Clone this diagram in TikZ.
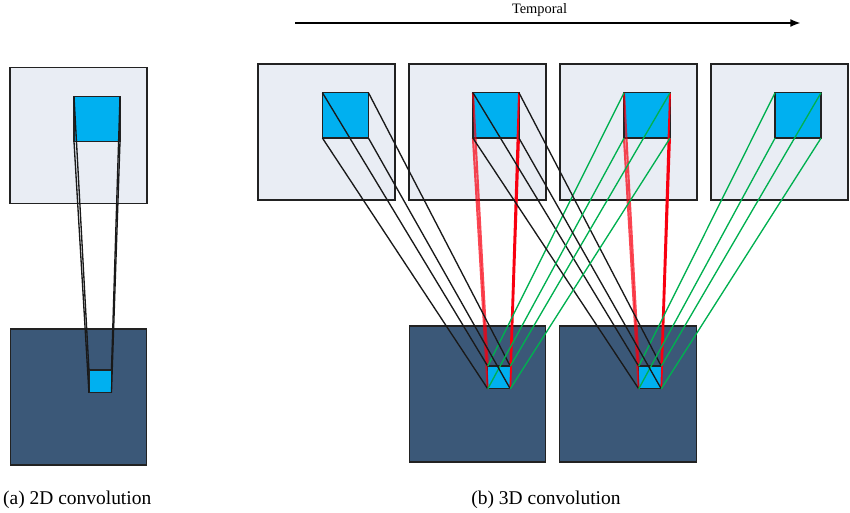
\documentclass[tikz,border=0pt]{standalone}
\usepackage{fontspec}
\usetikzlibrary{arrows.meta}
\setmainfont{Liberation Serif}
\definecolor{panelfill}{HTML}{E9EDF4}
\definecolor{darkfill}{HTML}{3B5878}
\definecolor{cyanfill}{HTML}{00B0F0}
\definecolor{linegreen}{HTML}{00B050}
\definecolor{linered}{HTML}{F80010}
\definecolor{edge}{HTML}{222222}
\tikzset{
  box/.style={rectangle,draw=edge,line width=1pt,inner sep=0pt,outer sep=0pt},
  panel/.style={box,fill=panelfill,minimum width=102.75pt,minimum height=102.2pt},
  darkpanel/.style={box,fill=darkfill,minimum width=102.4pt,minimum height=102.2pt},
  kernel/.style={box,fill=cyanfill,minimum width=34.5pt,minimum height=34pt},
  smallkernel/.style={box,fill=cyanfill,minimum width=16.9pt,minimum height=17pt},
  blackline/.style={draw=black!90,line width=1pt},
  redline/.style={draw=linered,line width=1.4pt},
  paleredline/.style={draw=linered,opacity=0.72,line width=1.6pt},
  greenline/.style={draw=linegreen,line width=1pt},
  caption/.style={inner sep=0pt,font=\fontsize{14.6pt}{16pt}\selectfont,anchor=base},
}
\begin{document}
\begin{tikzpicture}[x=0.75pt,y=-0.75pt]
\useasboundingbox (0,0) rectangle (850,513);
% 2D
\node[panel] (p0) at (78.5,135.5) {};
\node[darkpanel] (d0) at (78.5,397) {};
\node[kernel] (k0) at (97,119) {};
\node[smallkernel] (s0) at (100.2,381.2) {};
% 3D panels
\node[panel] (p1) at (326.5,132) {};
\node[panel] (p2) at (477.5,132) {};
\node[panel] (p3) at (628.5,132) {};
\node[panel] (p4) at (779.5,132) {};
\node[kernel] (k1) at (345.5,115.5) {};
\node[kernel] (k2) at (496,115.5) {};
\node[kernel] (k3) at (647,115.5) {};
\node[kernel] (k4) at (798,115.5) {};
\node[darkpanel] (d1) at (477.5,394) {};
\node[darkpanel] (d2) at (628,394) {};
\node[smallkernel] (s1) at (499,377.5) {};
\node[smallkernel] (s2) at (650,377.5) {};
% connectors
\foreach \c in {north west,north east,south west,south east}{
  \draw[blackline] (k0.\c) -- (s0.\c);
}
\foreach \c in {north west,south west}{
  \draw[paleredline] (k2.\c) -- (s1.\c);
  \draw[paleredline] (k3.\c) -- (s2.\c);
}
\foreach \c in {north east,south east}{
  \draw[redline] (k2.\c) -- (s1.\c);
  \draw[redline] (k3.\c) -- (s2.\c);
}
\foreach \c in {north west,north east,south west,south east}{
  \draw[blackline] (k1.\c) -- (s1.\c);
  \draw[blackline] (k2.\c) -- (s2.\c);
  \draw[greenline] (k3.\c) -- (s1.\c);
  \draw[greenline] (k4.\c) -- (s2.\c);
}
% temporal
\coordinate (t0) at (295,23);
\coordinate (t1) at (801,23);
\draw[line width=1.6pt,-{Latex[length=8pt,width=6pt]}] (t0) -- (t1);
\node[inner sep=0pt,font=\fontsize{10.8pt}{12pt}\selectfont] (tl) at (539.5,10) {Temporal};
\node[caption] (ca) at (77.2,504) {(a) 2D convolution};
\node[caption] (cb) at (546,504) {(b) 3D convolution};
\end{tikzpicture}
\end{document}
